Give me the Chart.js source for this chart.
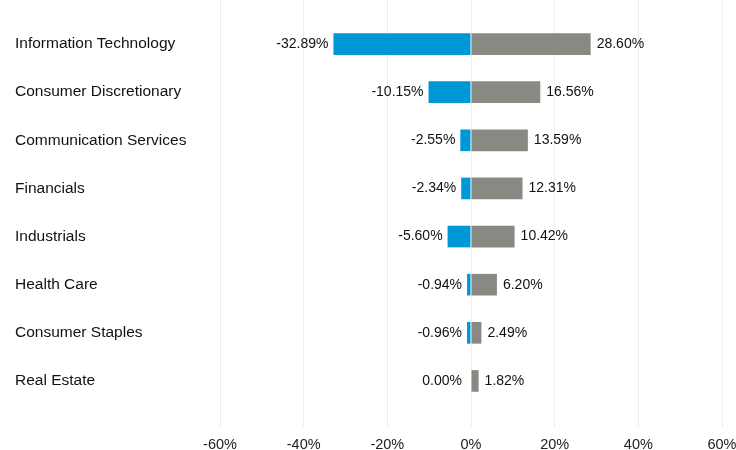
<!DOCTYPE html>
<html>
<head>
<meta charset="utf-8">
<script src="https://cdn.jsdelivr.net/npm/chart.js@4.4.1/dist/chart.umd.min.js"></script>
<style>
  html, body { margin: 0; padding: 0; background: #fff; }
  #wrap { width: 736px; height: 450px; }
</style>
</head>
<body>
<div id="wrap"><canvas id="sectors"></canvas></div>
<script>
const sectors = ['Information Technology', 'Consumer Discretionary', 'Communication Services', 'Financials',
                 'Industrials', 'Health Care', 'Consumer Staples', 'Real Estate'];
const negValues = [-32.89, -10.15, -2.55, -2.34, -5.60, -0.94, -0.96, 0.00];
const posValues = [28.60, 16.56, 13.59, 12.31, 10.42, 6.20, 2.49, 1.82];
const xTicks = [-60, -40, -20, 0, 20, 40, 60];

const gridColor = '#ededed';
const catFont = { family: 'Liberation Sans, Arial, sans-serif', size: 15.5 };
const tickFont = { family: 'Liberation Sans, Arial, sans-serif', size: 14.5, lineHeight: 1 };

function noPad(scale) {
    scale.paddingLeft = 0;
    scale.paddingRight = 0;
    scale.paddingTop = 0;
    scale.paddingBottom = 0;
}

// draw the % value next to the end of each bar
const barLabels = {
    id: 'barLabels',
    afterDatasetsDraw(chart) {
        const ctx = chart.ctx;
        ctx.save();
        ctx.font = '14px "Liberation Sans", Arial, sans-serif';
        ctx.fillStyle = '#111';
        ctx.textBaseline = 'middle';
        chart.data.datasets.forEach((ds, i) => {
            const meta = chart.getDatasetMeta(i);
            meta.data.forEach((bar, j) => {
                const v = ds.data[j];
                const txt = v.toFixed(2) + '%';
                if (i === 0) {
                    ctx.textAlign = 'right';
                    ctx.fillText(txt, Math.min(bar.x, bar.base) - (v === 0 ? 9 : 5), bar.y);
                } else {
                    ctx.textAlign = 'left';
                    ctx.fillText(txt, Math.max(bar.x, bar.base) + 6, bar.y);
                }
            });
        });
        ctx.restore();
    }
};

new Chart(document.getElementById('sectors'), {
    type: 'bar',
    data: {
        labels: sectors,
        datasets: [{
            label: 'Negative',
            data: negValues,
            backgroundColor: '#0097d7',
            barPercentage: 0.9,
            categoryPercentage: 0.5
        }, {
            label: 'Positive',
            data: posValues,
            backgroundColor: '#8a8883',
            barPercentage: 0.9,
            categoryPercentage: 0.5
        }]
    },
    options: {
        indexAxis: 'y',
        responsive: true,
        maintainAspectRatio: false,
        animation: false,
        layout: { padding: { left: 15, right: 14, top: 0, bottom: 0 } },
        plugins: {
            legend: { display: false },
            tooltip: { enabled: false }
        },
        scales: {
            x: {
                stacked: true,
                min: -60,
                max: 60,
                afterBuildTicks: scale => { scale.ticks = xTicks.map(v => ({ value: v })); },
                afterFit: scale => { noPad(scale); scale.height = 45; },
                ticks: {
                    callback: v => v + '%',
                    font: tickFont,
                    color: '#222',
                    padding: 11,
                    maxRotation: 0
                },
                grid: { color: gridColor, lineWidth: 1, tickLength: 22, tickColor: gridColor },
                border: { display: false }
            },
            xTop: {
                type: 'linear',
                position: 'top',
                min: -60,
                max: 60,
                afterBuildTicks: scale => { scale.ticks = xTicks.map(v => ({ value: v })); },
                afterFit: scale => { noPad(scale); scale.height = 20; },
                ticks: { display: false },
                grid: { drawOnChartArea: false, tickLength: 20, tickColor: gridColor, lineWidth: 1 },
                border: { display: false }
            },
            y: {
                stacked: true,
                ticks: {
                    font: catFont,
                    color: '#111',
                    crossAlign: 'far',
                    padding: 0
                },
                afterFit: scale => { noPad(scale); scale.width = 205; },
                grid: { display: false },
                border: { display: false }
            }
        }
    },
    plugins: [barLabels]
});
</script>
</body>
</html>
